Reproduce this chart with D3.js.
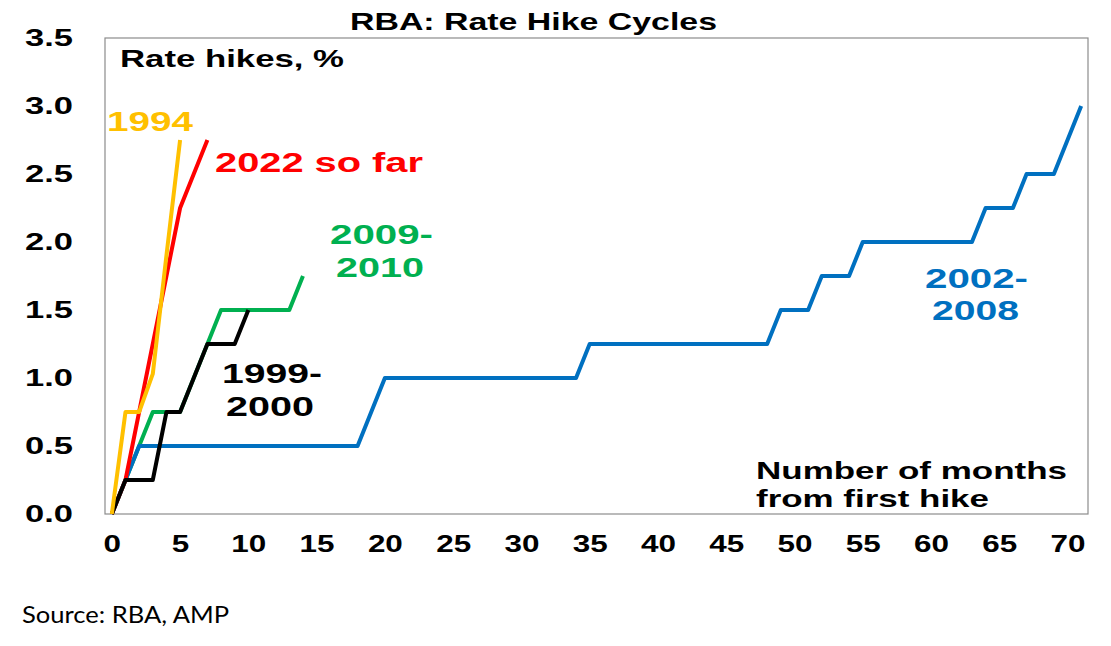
<!DOCTYPE html>
<html>
<head>
    <title>RBA: Rate Hike Cycles</title>
    <script src="https://d3js.org/d3.v7.min.js"></script>
    <style>
        body { margin: 0; background: #fff; }
        text { font-family: "Liberation Sans", Arial, sans-serif; font-weight: bold; }
    </style>
</head>
<body>
    <div id="chart"></div>

    <script>
        // Cumulative rate hikes (%) by month from the first hike
        var hikes1994 = [0, 0.75, 0.75, 1.03, 1.9, 2.75];
        var hikes2022 = [0, 0.25, 0.75, 1.25, 1.75, 2.25, 2.5, 2.75];
        var hikes2009 = [0, 0.25, 0.5, 0.75, 0.75, 0.75, 1.0, 1.25, 1.5, 1.5, 1.5, 1.5, 1.5, 1.5, 1.75];
        var hikes1999 = [0, 0.25, 0.25, 0.25, 0.75, 0.75, 1.0, 1.25, 1.25, 1.25, 1.5];
        var hikes2002 = [
            0, 0.25,
            0.5, 0.5, 0.5, 0.5, 0.5, 0.5, 0.5, 0.5, 0.5, 0.5, 0.5, 0.5, 0.5, 0.5, 0.5, 0.5, 0.5,
            0.75,
            1.0, 1.0, 1.0, 1.0, 1.0, 1.0, 1.0, 1.0, 1.0, 1.0, 1.0, 1.0, 1.0, 1.0, 1.0,
            1.25, 1.25, 1.25, 1.25, 1.25, 1.25, 1.25, 1.25, 1.25, 1.25, 1.25, 1.25, 1.25, 1.25,
            1.5, 1.5, 1.5,
            1.75, 1.75, 1.75,
            2.0, 2.0, 2.0, 2.0, 2.0, 2.0, 2.0, 2.0, 2.0,
            2.25, 2.25, 2.25,
            2.5, 2.5, 2.5,
            2.75, 3.0
        ];

        // Axis labels
        var xTicks = [0, 5, 10, 15, 20, 25, 30, 35, 40, 45, 50, 55, 60, 65, 70];
        var yTicks = [0, 0.5, 1.0, 1.5, 2.0, 2.5, 3.0, 3.5];

        var width = 1111;
        var height = 646;
        var plotLeft = 105, plotRight = 1088, plotTop = 38, plotBottom = 514;

        var svg = d3.select("#chart")
            .append("svg")
            .attr("width", width)
            .attr("height", height);

        // Category axis: months 0..71, labels between tick marks
        var x = d3.scaleLinear()
            .domain([-0.5, hikes2002.length - 0.5])
            .range([plotLeft, plotRight]);

        var y = d3.scaleLinear()
            .domain([0, 3.5])
            .range([plotBottom, plotTop]);

        // Plot area border
        svg.append("rect")
            .attr("x", plotLeft)
            .attr("y", plotTop)
            .attr("width", plotRight - plotLeft)
            .attr("height", plotBottom - plotTop)
            .attr("fill", "none")
            .attr("stroke", "#8c8c8c")
            .attr("stroke-width", 1.2);

        // Y axis
        var yAxis = svg.append("g")
            .attr("transform", "translate(" + plotLeft + ",0)")
            .call(d3.axisLeft(y).tickValues(yTicks).tickSize(0).tickPadding(32).tickFormat(d3.format(".1f")));
        yAxis.select(".domain").remove();
        yAxis.selectAll("text")
            .attr("font-size", 24)
            .attr("fill", "#000")
            .attr("textLength", 48)
            .attr("lengthAdjust", "spacingAndGlyphs");

        // X axis
        var xAxis = svg.append("g")
            .attr("transform", "translate(0," + plotBottom + ")")
            .call(d3.axisBottom(x).tickValues(xTicks).tickSize(0).tickPadding(21).tickFormat(d3.format("d")));
        xAxis.select(".domain").remove();
        xAxis.selectAll("text")
            .attr("font-size", 24.5)
            .attr("fill", "#000")
            .attr("textLength", function(d) { return String(d).length * 17.5; })
            .attr("lengthAdjust", "spacingAndGlyphs");

        // Series lines (drawing order matters for overlaps)
        var series = [
            { values: hikes2009, color: "#00B050" },
            { values: hikes2002, color: "#0070C0" },
            { values: hikes2022, color: "#FF0000" },
            { values: hikes1999, color: "#000000" },
            { values: hikes1994, color: "#FFC000" }
        ];

        var line = d3.line()
            .x(function(d, i) { return x(i); })
            .y(function(d) { return y(d); });

        svg.selectAll(".series")
            .data(series)
            .enter()
            .append("path")
            .attr("class", "series")
            .attr("d", function(d) { return line(d.values); })
            .attr("fill", "none")
            .attr("stroke", function(d) { return d.color; })
            .attr("stroke-width", 4)
            .attr("stroke-linejoin", "round");

        // Text labels
        var labels = [
            { text: "RBA: Rate Hike Cycles", x: 350, y: 30, size: 24, len: 367, color: "#000" },
            { text: "Rate hikes, %", x: 120, y: 67, size: 23.5, len: 224, color: "#000" },
            { text: "1994", x: 107, y: 131, size: 28, len: 86, color: "#FFC000" },
            { text: "2022 so far", x: 215, y: 172, size: 28, len: 208, color: "#FF0000" },
            { text: "2009-", x: 330, y: 244, size: 27.5, len: 103, color: "#00B050" },
            { text: "2010", x: 336, y: 277, size: 27.5, len: 88, color: "#00B050" },
            { text: "1999-", x: 222, y: 383, size: 28, len: 100, color: "#000" },
            { text: "2000", x: 226, y: 416, size: 28, len: 88, color: "#000" },
            { text: "2002-", x: 925, y: 288, size: 28, len: 103, color: "#0070C0" },
            { text: "2008", x: 932, y: 320, size: 28, len: 87, color: "#0070C0" },
            { text: "Number of months", x: 756, y: 479, size: 24.5, len: 311, color: "#000" },
            { text: "from first hike", x: 756, y: 507, size: 24.5, len: 233, color: "#000" }
        ];

        svg.selectAll(".label")
            .data(labels)
            .enter()
            .append("text")
            .attr("class", "label")
            .attr("x", function(d) { return d.x; })
            .attr("y", function(d) { return d.y; })
            .attr("font-size", function(d) { return d.size; })
            .attr("fill", function(d) { return d.color; })
            .attr("textLength", function(d) { return d.len; })
            .attr("lengthAdjust", "spacingAndGlyphs")
            .text(function(d) { return d.text; });

        // Source note
        svg.append("text")
            .attr("x", 22)
            .attr("y", 623)
            .style("font-family", "Lato, 'Open Sans', sans-serif")
            .style("font-weight", "normal")
            .attr("font-size", 24)
            .attr("fill", "#000")
            .attr("textLength", 207)
            .attr("lengthAdjust", "spacingAndGlyphs")
            .text("Source: RBA, AMP");
    </script>
</body>
</html>
